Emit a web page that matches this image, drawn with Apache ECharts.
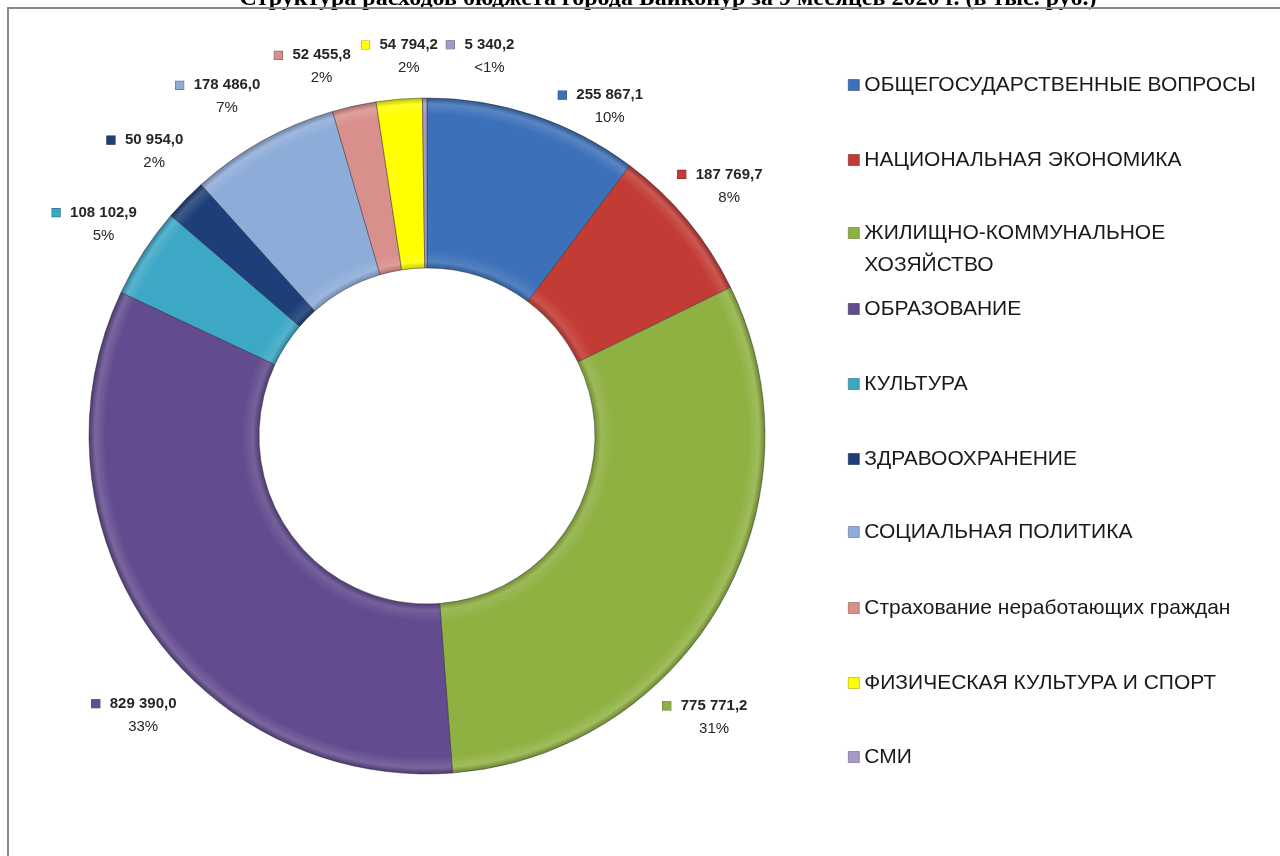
<!DOCTYPE html>
<html>
<head>
<meta charset="utf-8">
<title>Структура расходов бюджета</title>
<script src="https://cdn.jsdelivr.net/npm/echarts@6/dist/echarts.min.js"></script>
<style>
  html, body { margin: 0; padding: 0; background: #fff; }
  #chart { width: 1280px; height: 856px; }
</style>
</head>
<body>
<div id="chart"></div>
<script>
// данные диаграммы (тыс. руб.)
var categories = [
    'ОБЩЕГОСУДАРСТВЕННЫЕ ВОПРОСЫ',
    'НАЦИОНАЛЬНАЯ ЭКОНОМИКА',
    'ЖИЛИЩНО-КОММУНАЛЬНОЕ ХОЗЯЙСТВО',
    'ОБРАЗОВАНИЕ',
    'КУЛЬТУРА',
    'ЗДРАВООХРАНЕНИЕ',
    'СОЦИАЛЬНАЯ ПОЛИТИКА',
    'Страхование неработающих граждан',
    'ФИЗИЧЕСКАЯ КУЛЬТУРА И СПОРТ',
    'СМИ'
];
var values = [255867.1, 187769.7, 775771.2, 829390.0, 108102.9, 50954.0, 178486.0, 52455.8, 54794.2, 5340.2];
var percentLabels = ['10%', '8%', '31%', '33%', '5%', '2%', '7%', '2%', '2%', '<1%'];
var colors = ['#3c70b9', '#c23b34', '#8fb142', '#624b8e', '#3ca8c6', '#1d3e78', '#8eacd8', '#d98f8c', '#ffff00', '#a698c8'];

// геометрия и оформление
var CX = 427, CY = 436, R_IN = 168, R_OUT = 338;
// сдвиг подписи: [поправка угла, градусы; радиус центра подписи]
var labelPlace = [[9.4, 372], [-0.8, 385], [15.6, 396], [-9.1, 405], [-0.5, 394],
                  [0.8, 400], [-2.6, 398], [-4.8, 386], [0.6, 380], [8.4, 383]];
var legendY = [85, 160, 233, 309, 384, 459, 532, 608, 683, 757];
var labelFont = 'Liberation Sans, Arial, sans-serif';

function shade(hex, k) {//k>0 светлее, k<0 темнее
    var n = parseInt(hex.slice(1), 16);
    var r = n >> 16, g = (n >> 8) & 255, b = n & 255;
    function f(c) {
        c = k > 0 ? c + (255 - c) * k : c * (1 + k);
        return Math.max(0, Math.min(255, Math.round(c)));
    }
    return 'rgb(' + f(r) + ',' + f(g) + ',' + f(b) + ')';
}
function bevel(c) {
    return {
        type: 'radial', x: CX, y: CY, r: R_OUT, global: true,
        colorStops: [
            {offset: 0, color: shade(c, -0.2)},
            {offset: 0.497, color: shade(c, -0.2)},
            {offset: 0.515, color: shade(c, 0.12)},
            {offset: 0.55, color: c},
            {offset: 0.95, color: c},
            {offset: 0.982, color: shade(c, 0.15)},
            {offset: 1, color: shade(c, -0.25)}
        ]
    };
}
function fmtNum(v) {
    var s = v.toFixed(1).split('.');
    return s[0].replace(/\B(?=(\d{3})+(?!\d))/g, ' ') + ',' + s[1];
}

// средние углы секторов (от 12 часов по часовой)
var total = 0, midAngle = [];
for (var i = 0; i < values.length; i++) total += values[i];
var acc = 0;
for (var i = 0; i < values.length; i++) {
    midAngle.push((acc + values[i] / 2) / total * 360);
    acc += values[i];
}

var pieData = [];
for (var i = 0; i < values.length; i++) {
    pieData.push({
        name: categories[i],
        value: values[i],
        itemStyle: {color: bevel(colors[i])},
        label: {
            formatter: '{m|}{v|' + fmtNum(values[i]) + '}\n{p|' + percentLabels[i] + '}',
            rich: {
                m: {width: 8, height: 8, backgroundColor: colors[i], borderColor: shade(colors[i], -0.35), borderWidth: 0.6},
                v: {fontSize: 15, fontWeight: 'bold', color: '#262626', fontFamily: labelFont, padding: [0, 0, 0, 10], lineHeight: 22},
                p: {fontSize: 15, color: '#262626', fontFamily: labelFont, padding: [0, 0, 0, 18], lineHeight: 24}
            }
        }
    });
}

// легенда: отдельный блок на каждую строку
var legends = [];
for (var j = 0; j < categories.length; j++) {
    var twoLine = j === 2;
    legends.push({
        orient: 'vertical',
        left: 848,
        top: twoLine ? legendY[j] - 48 : legendY[j] - 12,
        padding: 0,
        itemWidth: 11,
        itemHeight: 11,
        itemGap: 0,
        icon: 'rect',
        selectedMode: false,
        data: [{name: categories[j], itemStyle: {color: colors[j], borderColor: shade(colors[j], -0.35), borderWidth: 0.6}}],
        formatter: twoLine ? function () { return '\nЖИЛИЩНО-КОММУНАЛЬНОЕ\nХОЗЯЙСТВО'; } : '{name}',
        textStyle: {
            fontSize: 21,
            color: '#1a1a1a',
            fontFamily: labelFont,
            lineHeight: twoLine ? 32 : 24
        }
    });
}

var option = {
    animation: false,
    backgroundColor: '#fff',
    title: {
        text: 'Структура расходов бюджета города Байконур за 9 месяцев 2020 г. (в тыс. руб.)',
        left: 668,
        textAlign: 'center',
        top: -13,
        padding: 0,
        textStyle: {fontFamily: 'Liberation Serif, Times New Roman, serif', fontWeight: 'bold', fontSize: 24, color: '#000'}
    },
    legend: legends,
    graphic: [{
        type: 'rect',
        z: 100,
        silent: true,
        shape: {x: 8, y: 8, width: 1400, height: 1000},
        style: {fill: 'none', stroke: '#8a8a8a', lineWidth: 2}
    }],
    series: [{
        type: 'pie',
        center: [CX, CY],
        radius: [R_IN, R_OUT],
        startAngle: 90,
        clockwise: true,
        avoidLabelOverlap: false,
        itemStyle: {borderColor: 'rgba(40,40,40,0.45)', borderWidth: 1},
        label: {show: true, position: 'outside'},
        labelLine: {show: false},
        labelLayout: function (p) {
            var k = p.dataIndex;
            var a = (midAngle[k] + labelPlace[k][0]) * Math.PI / 180;
            var r = labelPlace[k][1];
            return {
                x: CX + r * Math.sin(a),
                y: CY - r * Math.cos(a),
                align: 'center',
                verticalAlign: 'middle',
                hideOverlap: false,
                moveOverlap: null
            };
        },
        emphasis: {disabled: true},
        data: pieData
    }]
};

var myChart = echarts.init(document.getElementById('chart'));
myChart.setOption(option);
</script>
</body>
</html>
